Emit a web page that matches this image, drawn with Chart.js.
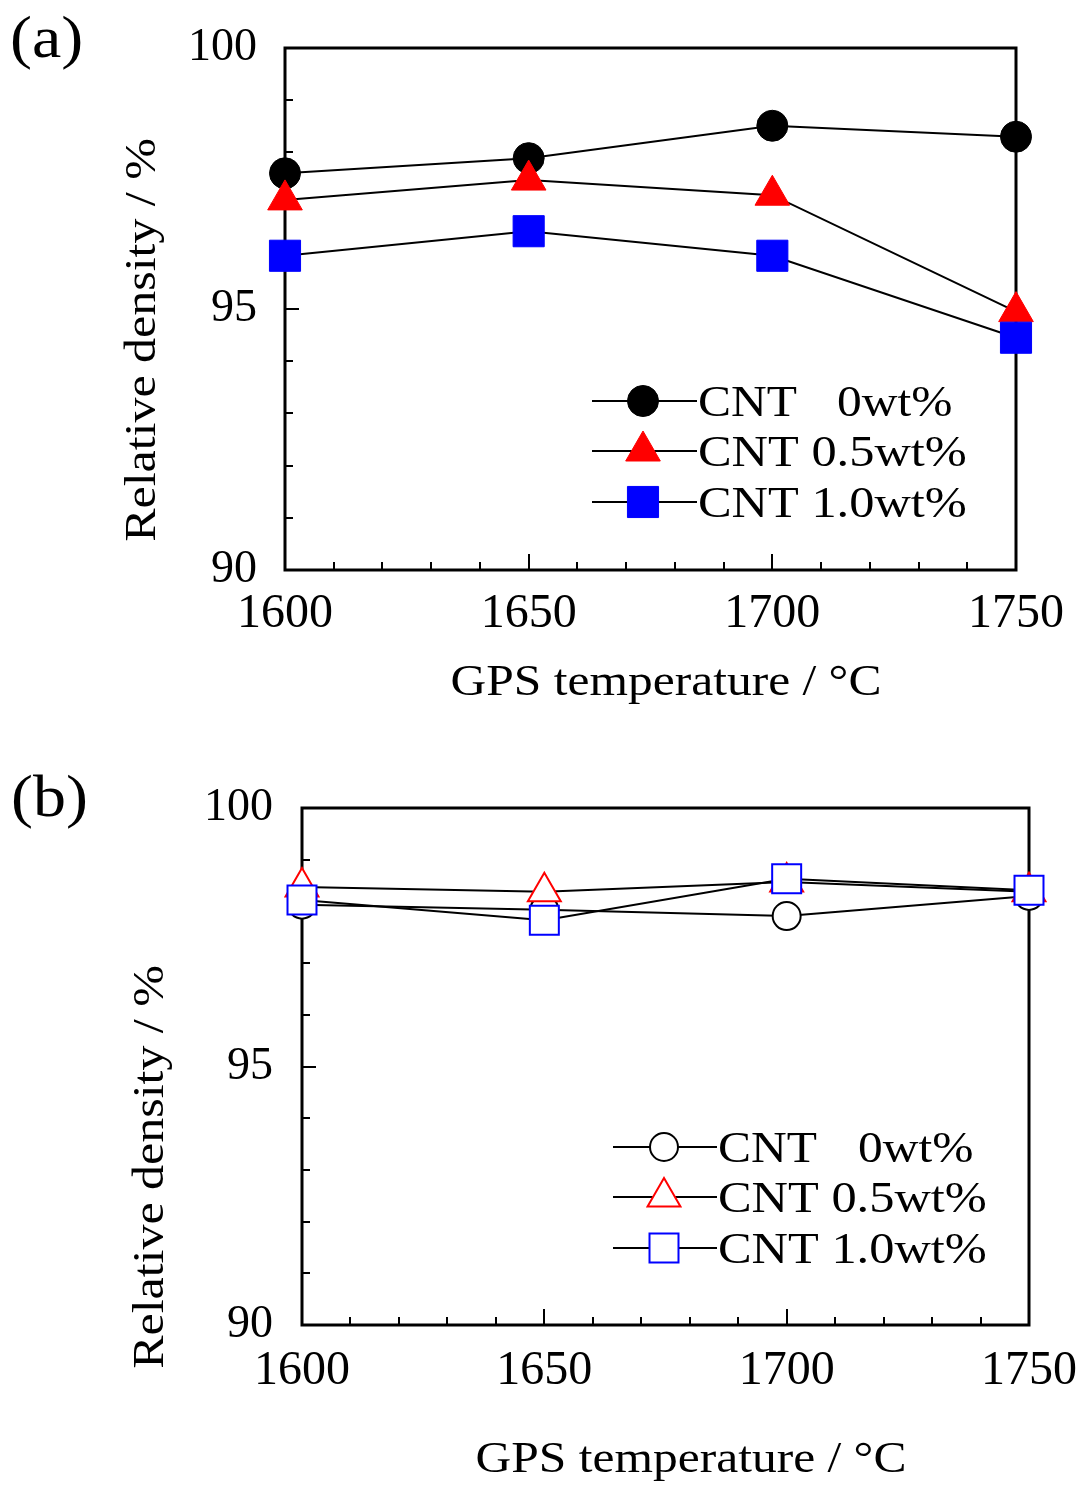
<!DOCTYPE html>
<html><head><meta charset="utf-8">
<script src="https://cdn.jsdelivr.net/npm/chart.js@4"></script>
<style>
html,body{margin:0;padding:0;background:#fff;width:1086px;height:1487px;overflow:hidden}
canvas{position:absolute;left:0;display:block}
</style></head><body>
<canvas id="ca" width="1086" height="740" style="top:0"></canvas>
<canvas id="cb" width="1086" height="747" style="top:740px"></canvas>
<script>
// ---- data ----
const temperatures = [1600, 1650, 1700, 1750];
const seriesLabels = ['CNT   0wt%', 'CNT 0.5wt%', 'CNT 1.0wt%'];
// panel (a)
const densityA_cnt0  = [97.60, 97.89, 98.51, 98.30];
const densityA_cnt05 = [97.09, 97.47, 97.18, 94.95];
const densityA_cnt10 = [96.02, 96.49, 96.02, 94.45];
// panel (b)
const densityB_cnt0  = [98.13, 98.03, 97.91, 98.30];
const densityB_cnt05 = [98.47, 98.38, 98.57, 98.38];
const densityB_cnt10 = [98.22, 97.83, 98.63, 98.41];
// axes
const xTickValues = [1600, 1650, 1700, 1750];
const yTickValues = [90, 95, 100];
const xMinorStep = 10, yMinorStep = 1;
const xTitle = 'GPS temperature / \u00B0C';
const yTitle = 'Relative density / %';

const SERIF = '"Liberation Serif", "Times New Roman", Times, serif';

function stretchedText(ctx, text, x, y, size, sx, align, rot) {
  ctx.save();
  ctx.translate(x, y);
  if (rot) ctx.rotate(rot);
  ctx.scale(sx, 1);
  ctx.font = size + 'px ' + SERIF;
  ctx.fillStyle = '#000';
  ctx.textAlign = align;
  ctx.textBaseline = 'alphabetic';
  ctx.fillText(text, 0, 0);
  ctx.restore();
}

function makePanel(id, cfg) {
  const canvas = document.getElementById(id);
  const W = canvas.width, Hc = canvas.height;
  const styles = cfg.styles;
  const series = cfg.series;

  const datasets = series.map((vals, i) => ({
    label: seriesLabels[i],
    data: temperatures.map((t, k) => ({x: t, y: vals[k]})),
    borderColor: '#000', borderWidth: 2, tension: 0, fill: false,
    pointStyle: styles[i].shape, pointRadius: styles[i].r, pointHoverRadius: styles[i].r,
    pointBackgroundColor: styles[i].fill, pointBorderColor: styles[i].stroke,
    pointBorderWidth: styles[i].bw, clip: false, order: styles[i].order
  }));

  const panelPlugin = {
    id: 'panelDecor',
    beforeDatasetsDraw(chart) {
      const {ctx, chartArea: a, scales: {x, y}} = chart;
      ctx.save();
      ctx.strokeStyle = '#000';
      ctx.lineWidth = 2;
      ctx.beginPath();
      for (let v = y.min; v <= y.max + 1e-9; v += yMinorStep) {
        const py = Math.round(y.getPixelForValue(v));
        const len = (Math.round(v) % 5 === 0) ? 14 : 8;
        ctx.moveTo(a.left, py); ctx.lineTo(a.left + len, py);
      }
      for (let v = x.min; v <= x.max + 1e-9; v += xMinorStep) {
        const px = Math.round(x.getPixelForValue(v));
        const len = (Math.round(v) % 50 === 0) ? 16 : 8;
        ctx.moveTo(px, a.bottom); ctx.lineTo(px, a.bottom - len);
      }
      ctx.stroke();
      ctx.lineWidth = 3;
      ctx.strokeRect(a.left, a.top, a.right - a.left, a.bottom - a.top);
      ctx.restore();
    },
    afterDraw(chart) {
      const ctx = chart.ctx;
      stretchedText(ctx, cfg.panelLabel, cfg.labelPos[0], cfg.labelPos[1], 60, 1.1, 'left');
      stretchedText(ctx, xTitle, cfg.xTitlePos[0], cfg.xTitlePos[1], 45, 1.1, 'center');
      stretchedText(ctx, yTitle, cfg.yTitlePos[0], cfg.yTitlePos[1], 45, 1.11, 'center', -Math.PI / 2);
      const L = cfg.legend;
      chart.data.datasets.forEach((d, i) => {
        const ry = L.rows[i];
        ctx.save();
        ctx.strokeStyle = '#000'; ctx.lineWidth = 2;
        ctx.beginPath(); ctx.moveTo(L.x1, ry); ctx.lineTo(L.x2, ry); ctx.stroke();
        ctx.fillStyle = d.pointBackgroundColor;
        ctx.strokeStyle = d.pointBorderColor;
        ctx.lineWidth = d.pointBorderWidth;
        Chart.helpers.drawPoint(ctx, {pointStyle: d.pointStyle, radius: d.pointRadius,
          borderWidth: d.pointBorderWidth, rotation: 0}, L.mx, ry);
        ctx.restore();
        const parts = d.label.split(/\s{2,}/);
        if (parts.length > 1) {
          stretchedText(ctx, parts[0], L.tx, ry + 15, 45, 1.1, 'left');
          stretchedText(ctx, parts[1], L.tx + L.gap, ry + 15, 45, 1.1, 'left');
        } else {
          stretchedText(ctx, d.label, L.tx, ry + 15, 45, 1.12, 'left');
        }
      });
    }
  };

  return new Chart(canvas, {
    type: 'line',
    data: {datasets},
    plugins: [panelPlugin],
    options: {
      responsive: false, animation: false, devicePixelRatio: 1,
      events: [],
      layout: {padding: {left: 0, top: cfg.plot.top, right: W - cfg.plot.right, bottom: 0}},
      plugins: {legend: {display: false}, tooltip: {enabled: false}, title: {display: false}},
      scales: {
        x: {
          type: 'linear', position: 'bottom', min: 1600, max: 1750,
          grid: {display: false}, border: {display: false},
          afterBuildTicks: s => { s.ticks = xTickValues.map(v => ({value: v})); },
          afterFit: s => { s.height = Hc - cfg.plot.bottom; s.paddingLeft = 0; s.paddingRight = 0; },
          ticks: {color: '#000', padding: cfg.xTickPad, maxRotation: 0, autoSkip: false,
            callback: v => String(v),
            font: {family: SERIF, size: 48}}
        },
        y: {
          type: 'linear', position: 'left', min: 90, max: 100,
          grid: {display: false}, border: {display: false},
          afterBuildTicks: s => { s.ticks = yTickValues.map(v => ({value: v})); },
          afterFit: s => { s.width = cfg.plot.left; s.paddingTop = 0; s.paddingBottom = 0; },
          ticks: {color: '#000', padding: cfg.yTickPad, callback: v => String(v),
            font: {family: SERIF, size: 46}}
        }
      }
    }
  });
}

function drawAll() {
  makePanel('ca', {
    series: [densityA_cnt0, densityA_cnt05, densityA_cnt10],
    styles: [
      {shape: 'circle', r: 15.5, fill: '#000', stroke: '#000', bw: 1, order: 3},
      {shape: 'triangle', r: 20, fill: '#ff0000', stroke: '#ff0000', bw: 1, order: 2},
      {shape: 'rect', r: 22, fill: '#0000ff', stroke: '#0000ff', bw: 1, order: 1}
    ],
    plot: {left: 285, right: 1016, top: 48, bottom: 570},
    xTickPad: 8, yTickPad: 20,
    panelLabel: '(a)', labelPos: [10, 57],
    xTitlePos: [666, 695], yTitlePos: [155, 340],
    legend: {x1: 592, x2: 697, mx: 643, tx: 698, gap: 139, rows: [401, 451, 502]}
  });

  makePanel('cb', {
    series: [densityB_cnt0, densityB_cnt05, densityB_cnt10],
    styles: [
      {shape: 'circle', r: 14, fill: '#ffffff', stroke: '#000', bw: 2, order: 3},
      {shape: 'triangle', r: 19, fill: '#ffffff', stroke: '#ff0000', bw: 2, order: 2},
      {shape: 'rect', r: 20.5, fill: '#ffffff', stroke: '#0000ff', bw: 2, order: 1}
    ],
    plot: {left: 302, right: 1029, top: 68, bottom: 585},
    xTickPad: 10, yTickPad: 21,
    panelLabel: '(b)', labelPos: [11, 76],
    xTitlePos: [691, 732], yTitlePos: [163, 427],
    legend: {x1: 613, x2: 717, mx: 664, tx: 718, gap: 140, rows: [1147 - 740, 1197 - 740, 1248 - 740]}
  });
}

if (document.fonts && document.fonts.load) {
  Promise.all([document.fonts.load('46px "Liberation Serif"')]).then(drawAll, drawAll);
} else {
  drawAll();
}
</script>
</body></html>
